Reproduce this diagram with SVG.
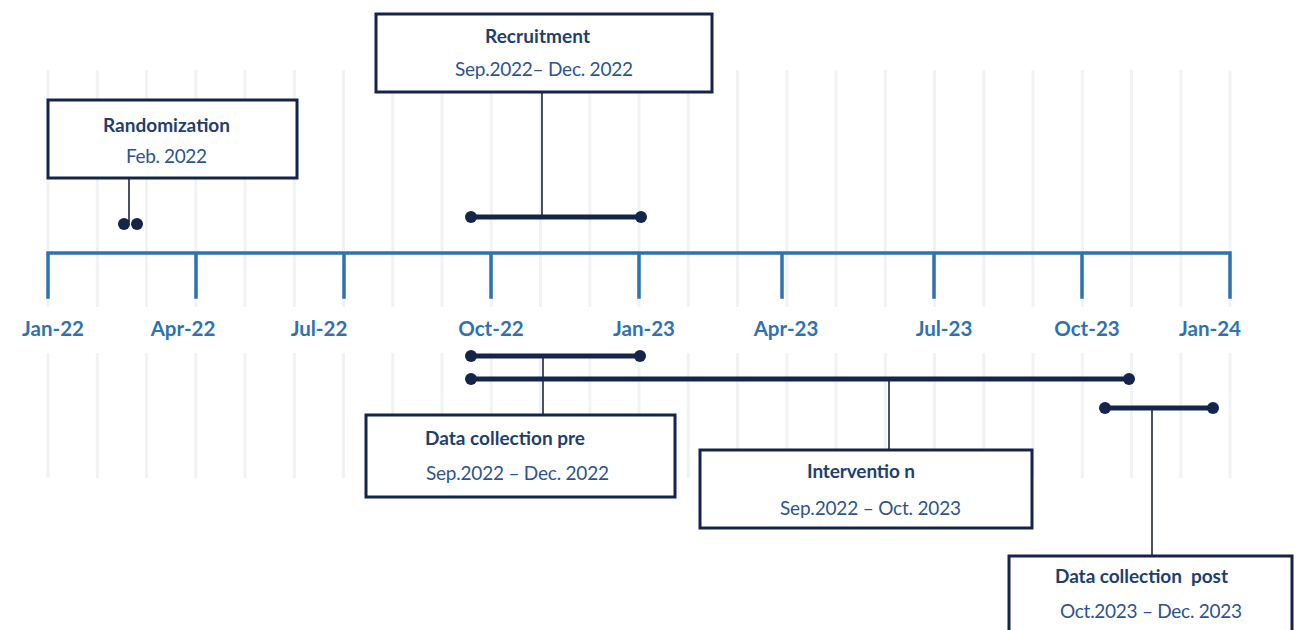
<svg xmlns="http://www.w3.org/2000/svg" width="1305" height="630" viewBox="0 0 1305 630">
<style>
  .grid line { stroke: #f1f2f4; stroke-width: 3; }
  .axis { stroke: #2e72b2; stroke-width: 3.5; fill: none; stroke-linecap: square; }
  .month { font-family: Lato, "Open Sans", sans-serif; font-weight: 700; font-size: 20.5px; fill: #2e72b5; text-anchor: middle; }
  .box { fill: #ffffff; stroke: #15244a; stroke-width: 3; }
  .title { font-family: Lato, "Open Sans", sans-serif; font-weight: 700; font-size: 19px; fill: #1f3f6e; white-space: pre; }
  .sub { font-family: Lato, "Open Sans", sans-serif; font-weight: 400; font-size: 19px; fill: #2c5490; white-space: pre; }
  .bar { stroke: #15244a; stroke-width: 5; }
  .dot { fill: #15244a; }
  .leader { stroke: #1e2535; stroke-width: 1.6; }
</style>

<g id="gridlines" class="grid">
  <line x1="48" y1="70" x2="48" y2="307"/><line x1="97.3" y1="70" x2="97.3" y2="307"/><line x1="146.5" y1="70" x2="146.5" y2="307"/><line x1="195.8" y1="70" x2="195.8" y2="307"/><line x1="245" y1="70" x2="245" y2="307"/><line x1="294.3" y1="70" x2="294.3" y2="307"/><line x1="343.5" y1="70" x2="343.5" y2="307"/><line x1="392.8" y1="70" x2="392.8" y2="307"/><line x1="442" y1="70" x2="442" y2="307"/><line x1="491.3" y1="70" x2="491.3" y2="307"/><line x1="540.5" y1="70" x2="540.5" y2="307"/><line x1="589.8" y1="70" x2="589.8" y2="307"/><line x1="639" y1="70" x2="639" y2="307"/><line x1="688.3" y1="70" x2="688.3" y2="307"/><line x1="737.5" y1="70" x2="737.5" y2="307"/><line x1="786.8" y1="70" x2="786.8" y2="307"/><line x1="836" y1="70" x2="836" y2="307"/><line x1="885.3" y1="70" x2="885.3" y2="307"/><line x1="934.5" y1="70" x2="934.5" y2="307"/><line x1="983.8" y1="70" x2="983.8" y2="307"/><line x1="1033" y1="70" x2="1033" y2="307"/><line x1="1082.3" y1="70" x2="1082.3" y2="307"/><line x1="1131.5" y1="70" x2="1131.5" y2="307"/><line x1="1180.8" y1="70" x2="1180.8" y2="307"/><line x1="1230" y1="70" x2="1230" y2="307"/>
  <line x1="48" y1="353" x2="48" y2="478"/><line x1="97.3" y1="353" x2="97.3" y2="478"/><line x1="146.5" y1="353" x2="146.5" y2="478"/><line x1="195.8" y1="353" x2="195.8" y2="478"/><line x1="245" y1="353" x2="245" y2="478"/><line x1="294.3" y1="353" x2="294.3" y2="478"/><line x1="343.5" y1="353" x2="343.5" y2="478"/><line x1="392.8" y1="353" x2="392.8" y2="478"/><line x1="442" y1="353" x2="442" y2="478"/><line x1="491.3" y1="353" x2="491.3" y2="478"/><line x1="540.5" y1="353" x2="540.5" y2="478"/><line x1="589.8" y1="353" x2="589.8" y2="478"/><line x1="639" y1="353" x2="639" y2="478"/><line x1="688.3" y1="353" x2="688.3" y2="478"/><line x1="737.5" y1="353" x2="737.5" y2="478"/><line x1="786.8" y1="353" x2="786.8" y2="478"/><line x1="836" y1="353" x2="836" y2="478"/><line x1="885.3" y1="353" x2="885.3" y2="478"/><line x1="934.5" y1="353" x2="934.5" y2="478"/><line x1="983.8" y1="353" x2="983.8" y2="478"/><line x1="1033" y1="353" x2="1033" y2="478"/><line x1="1082.3" y1="353" x2="1082.3" y2="478"/><line x1="1131.5" y1="353" x2="1131.5" y2="478"/><line x1="1180.8" y1="353" x2="1180.8" y2="478"/><line x1="1230" y1="353" x2="1230" y2="478"/>
</g>

<g id="axis">
  <path class="axis" d="M48,297 V253 H1230 V297 M196,253 V297 M344,253 V297 M491,253 V297 M639,253 V297 M782,253 V297 M934,253 V297 M1082,253 V297"/>
  <text class="month" x="53" y="336">Jan-22</text>
  <text class="month" x="183" y="336">Apr-22</text>
  <text class="month" x="319" y="336">Jul-22</text>
  <text class="month" x="491" y="336">Oct-22</text>
  <text class="month" x="644" y="336">Jan-23</text>
  <text class="month" x="786" y="336">Apr-23</text>
  <text class="month" x="944" y="336">Jul-23</text>
  <text class="month" x="1087" y="336">Oct-23</text>
  <text class="month" x="1210" y="336">Jan-24</text>
</g>

<g id="connectors">
  <line class="leader" x1="129" y1="178" x2="129" y2="222"/>
  <circle class="dot" cx="124" cy="224" r="6"/>
  <circle class="dot" cx="137" cy="224" r="6"/>

  <line class="leader" x1="542" y1="92" x2="542" y2="217"/>
  <line class="bar" x1="471" y1="217" x2="641" y2="217"/>
  <circle class="dot" cx="471" cy="217" r="6"/>
  <circle class="dot" cx="641" cy="217" r="6"/>

  <line class="leader" x1="543" y1="356" x2="543" y2="415"/>
  <line class="bar" x1="471" y1="356" x2="640" y2="356"/>
  <circle class="dot" cx="471" cy="356" r="6"/>
  <circle class="dot" cx="640" cy="356" r="6"/>

  <line class="leader" x1="889" y1="379" x2="889" y2="450"/>
  <line class="bar" x1="471" y1="379" x2="1129" y2="379"/>
  <circle class="dot" cx="471" cy="379" r="6"/>
  <circle class="dot" cx="1129" cy="379" r="6"/>

  <line class="leader" x1="1152" y1="408" x2="1152" y2="556"/>
  <line class="bar" x1="1105" y1="408" x2="1213" y2="408"/>
  <circle class="dot" cx="1105" cy="408" r="6"/>
  <circle class="dot" cx="1213" cy="408" r="6"/>
</g>

<g id="randomization">
  <rect class="box" x="48" y="100" width="249" height="78"/>
  <text class="title" x="103" y="132" textLength="127">Randomization</text>
  <text class="sub" x="126" y="163" textLength="81">Feb. 2022</text>
</g>

<g id="recruitment">
  <rect class="box" x="376" y="14" width="336" height="78"/>
  <text class="title" x="485" y="43" textLength="105">Recruitment</text>
  <text class="sub" x="455" y="76" textLength="178">Sep.2022– Dec. 2022</text>
</g>

<g id="data-collection-pre">
  <rect class="box" x="366" y="415" width="309" height="82"/>
  <text class="title" x="425" y="445" textLength="160">Data collection pre</text>
  <text class="sub" x="426" y="480" textLength="183">Sep.2022 – Dec. 2022</text>
</g>

<g id="intervention">
  <rect class="box" x="700" y="450" width="332" height="78"/>
  <text class="title" x="807" y="478" textLength="108">Interventio n</text>
  <text class="sub" x="780" y="515" textLength="181">Sep.2022 – Oct. 2023</text>
</g>

<g id="data-collection-post">
  <rect class="box" x="1009" y="556" width="283" height="90"/>
  <text class="title" x="1055" y="583" textLength="173">Data collection  post</text>
  <text class="sub" x="1060" y="618" textLength="182">Oct.2023 – Dec. 2023</text>
</g>
</svg>
